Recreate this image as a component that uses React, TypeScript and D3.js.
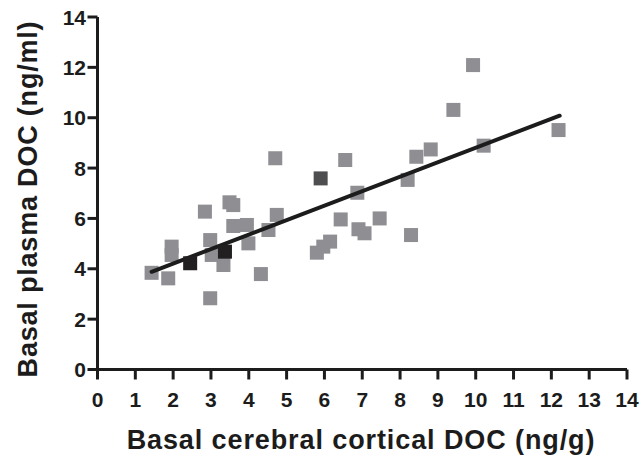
import React from "react";
import * as d3 from "d3";

const xTicks = [0, 1, 2, 3, 4, 5, 6, 7, 8, 9, 10, 11, 12, 13, 14];
const yTicks = [0, 2, 4, 6, 8, 10, 12, 14];

const lightX = [4.70, 2.84, 3.49, 3.59, 4.74, 3.59, 3.95, 3.99, 4.52, 2.98, 3.02, 3.33, 1.96, 1.96, 1.43, 1.87, 2.98, 4.32, 6.55, 6.87, 6.43, 6.90, 7.06, 7.46, 6.15, 5.97, 5.80, 9.93, 9.41, 10.21, 8.81, 8.43, 8.20, 8.29, 12.19];
const lightY = [8.39, 6.27, 6.64, 6.53, 6.14, 5.70, 5.74, 5.01, 5.54, 5.14, 4.55, 4.15, 4.88, 4.55, 3.84, 3.62, 2.83, 3.79, 8.32, 7.02, 5.96, 5.57, 5.41, 6.00, 5.08, 4.88, 4.64, 12.09, 10.31, 8.89, 8.74, 8.45, 7.53, 5.34, 9.51];

const midX = [5.90];
const midY = [7.59];

const blackX = [2.45, 3.37];
const blackY = [4.22, 4.68];

const fitX = [1.43, 12.22];
const fitY = [3.88, 10.08];

const W = 642;
const H = 456;
const FONT = "'Liberation Sans', Arial, Helvetica, sans-serif";

export default function App() {
  const x = d3.scaleLinear().domain([0, 14]).range([97.5, 627]);
  const y = d3.scaleLinear().domain([0, 14]).range([369.5, 17]);
  const sq = 14;
  const line = d3
    .line<number>()
    .x((_, i) => x(fitX[i]))
    .y((_, i) => y(fitY[i]));

  const squares = (xs: number[], ys: number[], fill: string, key: string) =>
    xs.map((v, i) => (
      <rect
        key={key + i}
        x={x(v) - sq / 2}
        y={y(ys[i]) - sq / 2}
        width={sq}
        height={sq}
        fill={fill}
      />
    ));

  return (
    <svg
      width={W}
      height={H}
      style={{ position: "absolute", left: 0, top: 0, background: "#fff" }}
      fontFamily={FONT}
      fontWeight="bold"
    >
      {squares(lightX, lightY, "#8e8e93", "l")}
      <path d={line(fitX) || ""} stroke="#1c1c1c" strokeWidth={4} fill="none" strokeLinecap="round" />
      {squares(midX, midY, "#4e4e51", "m")}
      {squares(blackX, blackY, "#221f20", "b")}

      {/* axes */}
      <line x1={x(0)} x2={x(14)} y1={y(0)} y2={y(0)} stroke="#1c1c1c" strokeWidth={3} />
      <line x1={x(0)} x2={x(0)} y1={y(0) + 1.5} y2={y(14)} stroke="#1c1c1c" strokeWidth={3} />
      {xTicks.map((t) => (
        <g key={"xt" + t}>
          <line x1={x(t)} x2={x(t)} y1={y(0)} y2={y(0) + 10} stroke="#1c1c1c" strokeWidth={3} />
          <text x={x(t)} y={407} textAnchor="middle" fontSize={21} fill="#1c1c1c">
            {t}
          </text>
        </g>
      ))}
      {yTicks.map((t) => (
        <g key={"yt" + t}>
          <line x1={x(0) - 10} x2={x(0)} y1={y(t)} y2={y(t)} stroke="#1c1c1c" strokeWidth={3} />
          <text x={86} y={y(t)} dy="0.36em" textAnchor="end" fontSize={21} fill="#1c1c1c">
            {t}
          </text>
        </g>
      ))}
      <text x={361} y={449} textAnchor="middle" fontSize={27} letterSpacing={0.9} fill="#1c1c1c">
        Basal cerebral cortical DOC (ng/g)
      </text>
      <text
        transform={`translate(37,199) rotate(-90)`}
        textAnchor="middle"
        fontSize={27}
        letterSpacing={0.8}
        fill="#1c1c1c"
      >
        Basal plasma DOC (ng/ml)
      </text>
    </svg>
  );
}
